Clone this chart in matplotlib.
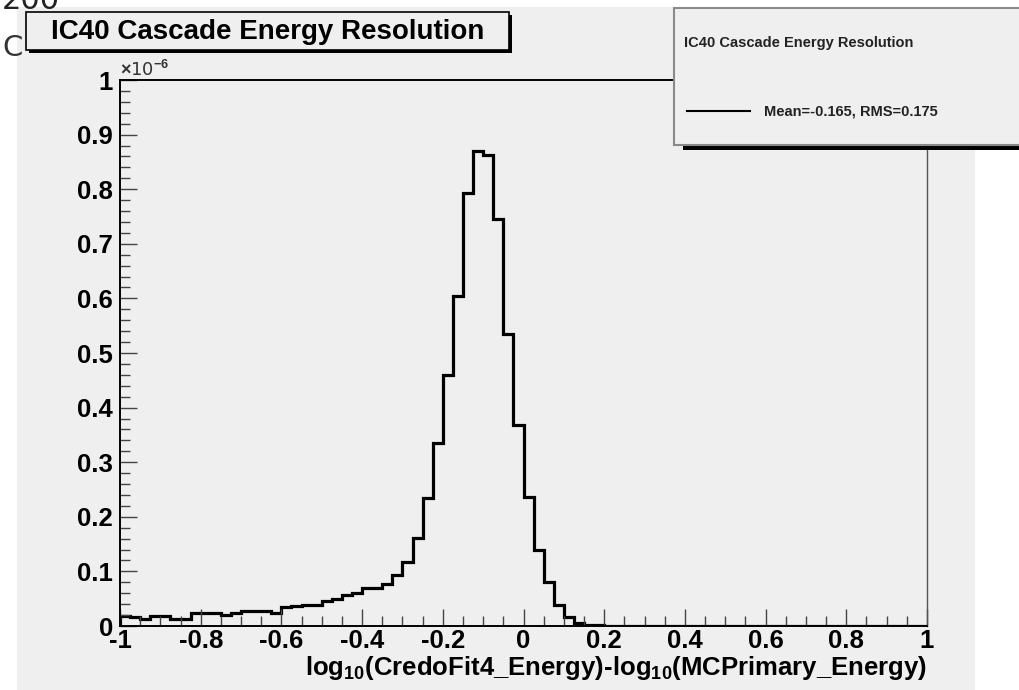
import numpy as np
import matplotlib.pyplot as plt
from matplotlib.patches import Rectangle
from matplotlib.lines import Line2D
from matplotlib.ticker import MultipleLocator

plt.rcParams['font.family'] = ['Liberation Sans', 'DejaVu Sans']
plt.rcParams['axes.unicode_minus'] = False
plt.rcParams['mathtext.fontset'] = 'custom'
plt.rcParams['mathtext.rm'] = 'Liberation Sans:bold'
plt.rcParams['mathtext.it'] = 'Liberation Sans:bold'
plt.rcParams['mathtext.bf'] = 'Liberation Sans:bold'

# 80 bins over [-1, 1], bin contents in units of 1e-6
x_lo, x_hi, n_bins = -1.0, 1.0, 80
contents = [
    0.018, 0.016, 0.012, 0.018, 0.018, 0.013, 0.013, 0.024, 0.024, 0.024,
    0.021, 0.024, 0.027, 0.027, 0.028, 0.024, 0.034, 0.036, 0.038, 0.038,
    0.046, 0.050, 0.056, 0.060, 0.070, 0.070, 0.077, 0.093, 0.117, 0.162,
    0.235, 0.336, 0.460, 0.604, 0.793, 0.870, 0.863, 0.745, 0.534, 0.369,
    0.237, 0.139, 0.081, 0.039, 0.017, 0.006, 0.002, 0.001, 0.0, 0.0,
    0.0, 0.0, 0.0, 0.0, 0.0, 0.0, 0.0, 0.0, 0.0, 0.0,
    0.0, 0.0, 0.0, 0.0, 0.0, 0.0, 0.0, 0.0, 0.0, 0.0,
    0.0, 0.0, 0.0, 0.0, 0.0, 0.0, 0.0, 0.0, 0.0, 0.0,
]
x_ticks = [-1, -0.8, -0.6, -0.4, -0.2, 0, 0.2, 0.4, 0.6, 0.8, 1]
x_ticklabels = ['-1', '-0.8', '-0.6', '-0.4', '-0.2', '0', '0.2', '0.4', '0.6', '0.8', '1']
y_ticks = [0, 0.1, 0.2, 0.3, 0.4, 0.5, 0.6, 0.7, 0.8, 0.9, 1]
y_ticklabels = ['0', '0.1', '0.2', '0.3', '0.4', '0.5', '0.6', '0.7', '0.8', '0.9', '1']

title = 'IC40 Cascade Energy Resolution'
stats = 'Mean=-0.165, RMS=0.175'
xlabel = r'log$_{10}$(CredoFit4_Energy)-log$_{10}$(MCPrimary_Energy)'

W, H = 1019, 690
BG = '#efefef'


def fx(px):
    return px / W


def fy(py):
    return 1 - py / H


fig = plt.figure(figsize=(W / 100, H / 100), dpi=100)
fig.patch.set_facecolor('white')

# grey canvas
fig.add_artist(Rectangle((fx(17), fy(690)), fx(975) - fx(17), fy(7) - fy(690),
                         transform=fig.transFigure, facecolor=BG,
                         edgecolor='none', zorder=-2))
# bits of page text around the canvas
fig.text(fx(2), fy(48), 'C', fontsize=21, color='#333333', va='center',
         family='DejaVu Sans', zorder=-1)
fig.text(fx(2), fy(9), '200', fontsize=22, color='#222222', va='baseline',
         family='DejaVu Sans', zorder=-1)

ax = fig.add_axes([fx(120), fy(626), fx(927) - fx(120), fy(80) - fy(626)])
ax.set_facecolor(BG)

edges = np.linspace(x_lo, x_hi, n_bins + 1)
ax.stairs(contents, edges, baseline=0, color='black', lw=2.3)

ax.set_xlim(x_lo, x_hi)
ax.set_ylim(0, 1)
ax.set_xticks(x_ticks)
ax.set_xticklabels(x_ticklabels)
ax.set_yticks(y_ticks)
ax.set_yticklabels(y_ticklabels)
ax.xaxis.set_minor_locator(MultipleLocator(0.05))
ax.yaxis.set_minor_locator(MultipleLocator(0.02))
ax.tick_params(which='both', direction='in', top=False, right=False,
               color='#444444', width=1.0)
ax.tick_params(which='major', length=12, labelsize=18.5, pad=2)
ax.tick_params(axis='y', which='major', pad=5)
ax.tick_params(which='minor', length=7)
for lab in ax.get_xticklabels() + ax.get_yticklabels():
    lab.set_fontweight('bold')
for side in ['left', 'bottom', 'top']:
    ax.spines[side].set_linewidth(1.4)
ax.spines['right'].set_linewidth(1.0)
ax.spines['right'].set_color('#555555')

ax.text(0.0, 1.0, r'$\times$10$^{-6}$', transform=ax.transAxes, fontsize=13,
        color='#333333', ha='left', va='bottom', family='DejaVu Sans')

fig.text(fx(927), fy(668), xlabel, fontsize=18.5, fontweight='bold',
         ha='right', va='center')

# title box with shadow
fig.add_artist(Rectangle((fx(29), fy(53)), fx(512) - fx(29), fy(15) - fy(53),
                         transform=fig.transFigure, facecolor='black',
                         edgecolor='none', zorder=3))
fig.add_artist(Rectangle((fx(26), fy(50)), fx(509) - fx(26), fy(12) - fy(50),
                         transform=fig.transFigure, facecolor=BG,
                         edgecolor='black', lw=1.2, zorder=4))
fig.text(fx(268), fy(32), title, fontsize=20, fontweight='bold',
         ha='center', va='center', zorder=5)

# stats legend box with shadow
fig.add_artist(Rectangle((fx(683), fy(150)), fx(1030) - fx(683), fy(16) - fy(150),
                         transform=fig.transFigure, facecolor='black',
                         edgecolor='none', zorder=3))
fig.add_artist(Rectangle((fx(674), fy(145)), fx(1025) - fx(674), fy(8) - fy(145),
                         transform=fig.transFigure, facecolor=BG,
                         edgecolor='#8a8a8a', lw=1.5, zorder=4))
fig.text(fx(684), fy(43), title, fontsize=10.5, fontweight='bold',
         color='#222222', ha='left', va='center', zorder=5)
fig.add_artist(Line2D([fx(687), fx(750)], [fy(111), fy(111)],
                      transform=fig.transFigure, color='black', lw=1.5, zorder=5))
fig.text(fx(764), fy(111), stats, fontsize=10.5, fontweight='bold',
         color='#222222', ha='left', va='center', zorder=5)

fig.savefig('out.png', dpi=100)
